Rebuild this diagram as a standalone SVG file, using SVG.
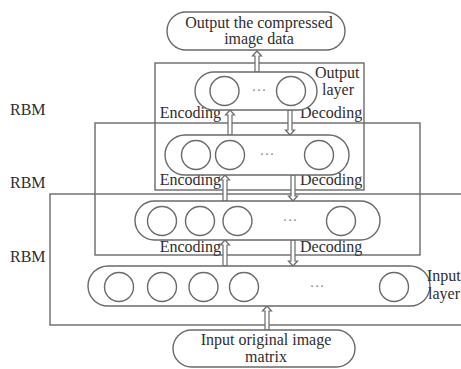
<svg xmlns="http://www.w3.org/2000/svg" width="461" height="369" viewBox="0 0 461 369" font-family="'Liberation Serif', 'DejaVu Serif', serif">
  <style>
    .frame { fill: none; stroke: #6a6a6a; stroke-width: 1.4; }
    .pill { fill: #fff; stroke: #6a6a6a; stroke-width: 1.4; }
    .unit { fill: #fff; stroke: #6a6a6a; stroke-width: 1.4; }
    .arrow { fill: #fff; stroke: #6a6a6a; stroke-width: 1.2; stroke-linejoin: miter; }
    .t { font-family: 'Liberation Serif', 'DejaVu Serif', serif; font-size: 16px; fill: #2e2e2e; }
    .mid { text-anchor: middle; }
    .end { text-anchor: end; }
    .dots { font-family: 'Liberation Serif', serif; fill: #8a8a8a; font-size: 15px; text-anchor: middle; }
  </style>

  <rect width="461" height="369" fill="#fff"/>

  <!-- RBM frames -->
  <g id="rbm-frames">
    <rect class="frame" x="155" y="63" width="209" height="127"/>
    <rect class="frame" x="95" y="123" width="325" height="132"/>
    <rect class="frame" x="50" y="194" width="420" height="131"/>
  </g>

  <g id="rbm-labels">
    <text class="t" x="10" y="115">RBM</text>
    <text class="t" x="10" y="188">RBM</text>
    <text class="t" x="10" y="262">RBM</text>
  </g>

  <!-- connectors: hollow arrows, shaft 4 wide, head 9 wide -->
  <g id="connectors">
    <!-- output arrow -->
    <path class="arrow" d="M257,51 L261.5,56 L259,56 L259,72 L255,72 L255,56 L252.5,56 Z"/>
    <!-- level 1 -->
    <path class="arrow" d="M230,110 L234.5,115 L232,115 L232,135 L228,135 L228,115 L225.5,115 Z"/>
    <path class="arrow" d="M290,135 L294.5,130 L292,130 L292,110 L288,110 L288,130 L285.5,130 Z"/>
    <!-- level 2 -->
    <path class="arrow" d="M225,175 L229.5,180 L227,180 L227,201 L223,201 L223,180 L220.5,180 Z"/>
    <path class="arrow" d="M293,201 L297.5,196 L295,196 L295,175 L291,175 L291,196 L288.5,196 Z"/>
    <!-- level 3 -->
    <path class="arrow" d="M225,240 L229.5,245 L227,245 L227,266 L223,266 L223,245 L220.5,245 Z"/>
    <path class="arrow" d="M293,266 L297.5,261 L295,261 L295,240 L291,240 L291,261 L288.5,261 Z"/>
    <!-- input arrow -->
    <path class="arrow" d="M267,306 L271.5,311 L269,311 L269,330 L265,330 L265,311 L262.5,311 Z"/>
  </g>

  <g id="arrow-labels">
    <text class="t end" x="221" y="118">Encoding</text>
    <text class="t" x="300" y="118">Decoding</text>
    <text class="t end" x="221" y="185">Encoding</text>
    <text class="t" x="300" y="185">Decoding</text>
    <text class="t end" x="221" y="252">Encoding</text>
    <text class="t" x="300" y="252">Decoding</text>
  </g>

  <!-- output data node -->
  <g id="output-data">
    <rect class="pill" x="167" y="12" width="178" height="38" rx="19"/>
    <text class="t mid" x="259" y="28">Output the compressed</text>
    <text class="t mid" x="259" y="44">image data</text>
  </g>

  <!-- output layer -->
  <g id="output-layer">
    <rect class="pill" x="195" y="72" width="122" height="38" rx="19"/>
    <circle class="unit" cx="224.5" cy="91" r="14.5"/>
    <text class="dots" x="259" y="95">···</text>
    <circle class="unit" cx="291" cy="91" r="14.5"/>
    <text class="t" x="315" y="78">Output</text>
    <text class="t" x="322" y="95">layer</text>
  </g>

  <!-- hidden layer 2 -->
  <g id="hidden-layer-2">
    <rect class="pill" x="165" y="135" width="184" height="40" rx="20"/>
    <circle class="unit" cx="196" cy="155" r="14.5"/>
    <circle class="unit" cx="230" cy="155" r="14.5"/>
    <text class="dots" x="267" y="159">···</text>
    <circle class="unit" cx="319" cy="155" r="14.5"/>
  </g>

  <!-- hidden layer 1 -->
  <g id="hidden-layer-1">
    <rect class="pill" x="135" y="201" width="245" height="39" rx="19.5"/>
    <circle class="unit" cx="162" cy="221" r="14.5"/>
    <circle class="unit" cx="200" cy="221" r="14.5"/>
    <circle class="unit" cx="237.5" cy="221" r="14.5"/>
    <text class="dots" x="290" y="225">···</text>
    <circle class="unit" cx="341" cy="221" r="14.5"/>
  </g>

  <!-- input layer -->
  <g id="input-layer">
    <rect class="pill" x="88" y="266" width="342" height="40" rx="20"/>
    <circle class="unit" cx="119" cy="287" r="14.5"/>
    <circle class="unit" cx="162" cy="287" r="14.5"/>
    <circle class="unit" cx="203.5" cy="287" r="14.5"/>
    <circle class="unit" cx="244" cy="287" r="14.5"/>
    <text class="dots" x="317" y="291">···</text>
    <circle class="unit" cx="394" cy="287" r="14.5"/>
    <text class="t" x="427" y="281">Input</text>
    <text class="t" x="428" y="299">layer</text>
  </g>

  <!-- input data node -->
  <g id="input-data">
    <rect class="pill" x="173" y="330" width="182" height="37" rx="18.5"/>
    <text class="t mid" x="266" y="345">Input original image</text>
    <text class="t mid" x="266" y="362">matrix</text>
  </g>
</svg>
